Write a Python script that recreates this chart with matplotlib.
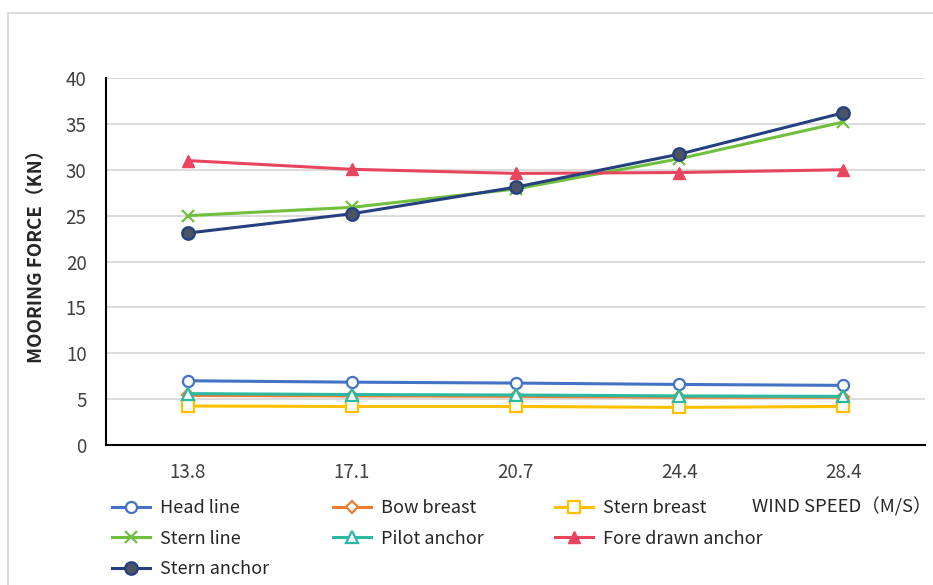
import matplotlib.pyplot as plt
from matplotlib.patches import Rectangle

plt.rcParams["font.family"] = ["Noto Sans CJK SC", "DejaVu Sans"]

wind_speeds = ["13.8", "17.1", "20.7", "24.4", "28.4"]

head_line = [7.0, 6.85, 6.75, 6.6, 6.5]
bow_breast = [5.4, 5.35, 5.3, 5.2, 5.2]
stern_breast = [4.25, 4.2, 4.2, 4.1, 4.2]
stern_line = [25.0, 25.9, 27.9, 31.2, 35.2]
pilot_anchor = [5.6, 5.5, 5.45, 5.35, 5.3]
fore_drawn_anchor = [31.0, 30.05, 29.6, 29.7, 30.0]
stern_anchor = [23.1, 25.2, 28.1, 31.7, 36.2]

fig = plt.figure(figsize=(9.33, 5.85), dpi=100)
ax = fig.add_axes([106 / 933, 1 - 445 / 585, (925 - 106) / 933, (445 - 78) / 585])

x = list(range(len(wind_speeds)))
lw = 2.2
ms = 8

h_head, = ax.plot(x, head_line, color="#4472C4", lw=lw, marker="o", ms=ms,
                  mfc="white", mec="#4472C4", mew=1.6, label="Head line")
h_bow, = ax.plot(x, bow_breast, color="#ED7D31", lw=lw, marker="D", ms=6,
                 mfc="white", mec="#ED7D31", mew=1.6, label="Bow breast")
h_sbreast, = ax.plot(x, stern_breast, color="#FFC000", lw=lw, marker="s", ms=ms,
                     mfc="white", mec="#FFC000", mew=1.6, label="Stern breast")
h_sline, = ax.plot(x, stern_line, color="#70BF3E", lw=lw, marker="x", ms=ms,
                   mew=1.6, label="Stern line")
h_pilot, = ax.plot(x, pilot_anchor, color="#2BB9A2", lw=lw, marker="^", ms=ms,
                   mfc="white", mec="#2BB9A2", mew=1.6, label="Pilot anchor")
h_fore, = ax.plot(x, fore_drawn_anchor, color="#E8465E", lw=lw, marker="^", ms=9,
                  label="Fore drawn anchor")
h_sanchor, = ax.plot(x, stern_anchor, color="#25407F", lw=lw, marker="o", ms=9,
                     mfc="#4A5466", mec="#25407F", mew=1.6, label="Stern anchor")

ax.set_xlim(-0.5, len(wind_speeds) - 0.5)
ax.set_ylim(0, 40)
ax.set_yticks(range(0, 41, 5))
ax.set_xticks(x)
ax.set_xticklabels(wind_speeds)
ax.grid(axis="y", color="#D9D9D9", lw=1.3)
ax.set_axisbelow(True)
for side in ["top", "right"]:
    ax.spines[side].set_visible(False)
ax.spines["left"].set_linewidth(1.5)
ax.spines["bottom"].set_linewidth(1.5)
ax.tick_params(axis="both", length=0, labelsize=13.5, colors="#404040", pad=12)
ax.tick_params(axis="y", pad=14)

ax.set_ylabel("MOORING FORCE（KN）", fontsize=13.5, color="#262626",
              fontweight="bold")
ax.yaxis.set_label_coords(-0.073, 0.526)

# one legend per column so the columns sit at fixed positions
columns = [
    (112, [h_head, h_sline, h_sanchor]),
    (333, [h_bow, h_pilot]),
    (555, [h_sbreast, h_fore]),
]
for left, hs in columns:
    leg = fig.legend(handles=hs, labels=[h.get_label() for h in hs],
                     loc="upper left", bbox_to_anchor=(left / 933, 1 - 499 / 585),
                     frameon=False, fontsize=13, handlelength=2.1,
                     handletextpad=0.55, labelspacing=0.7, borderpad=0,
                     borderaxespad=0)
    for t in leg.get_texts():
        t.set_color("#262626")

fig.text(752 / 933, 1 - 507 / 585, "WIND SPEED（M/S）", fontsize=13.3,
         color="#262626", va="center", ha="left")

fig.patches.append(Rectangle((8 / 933, -0.1), 2, 1 - 13 / 585 + 0.1,
                             transform=fig.transFigure, fill=False,
                             edgecolor="#D9D9D9", lw=1.3))

fig.savefig("out.png", dpi=100)
